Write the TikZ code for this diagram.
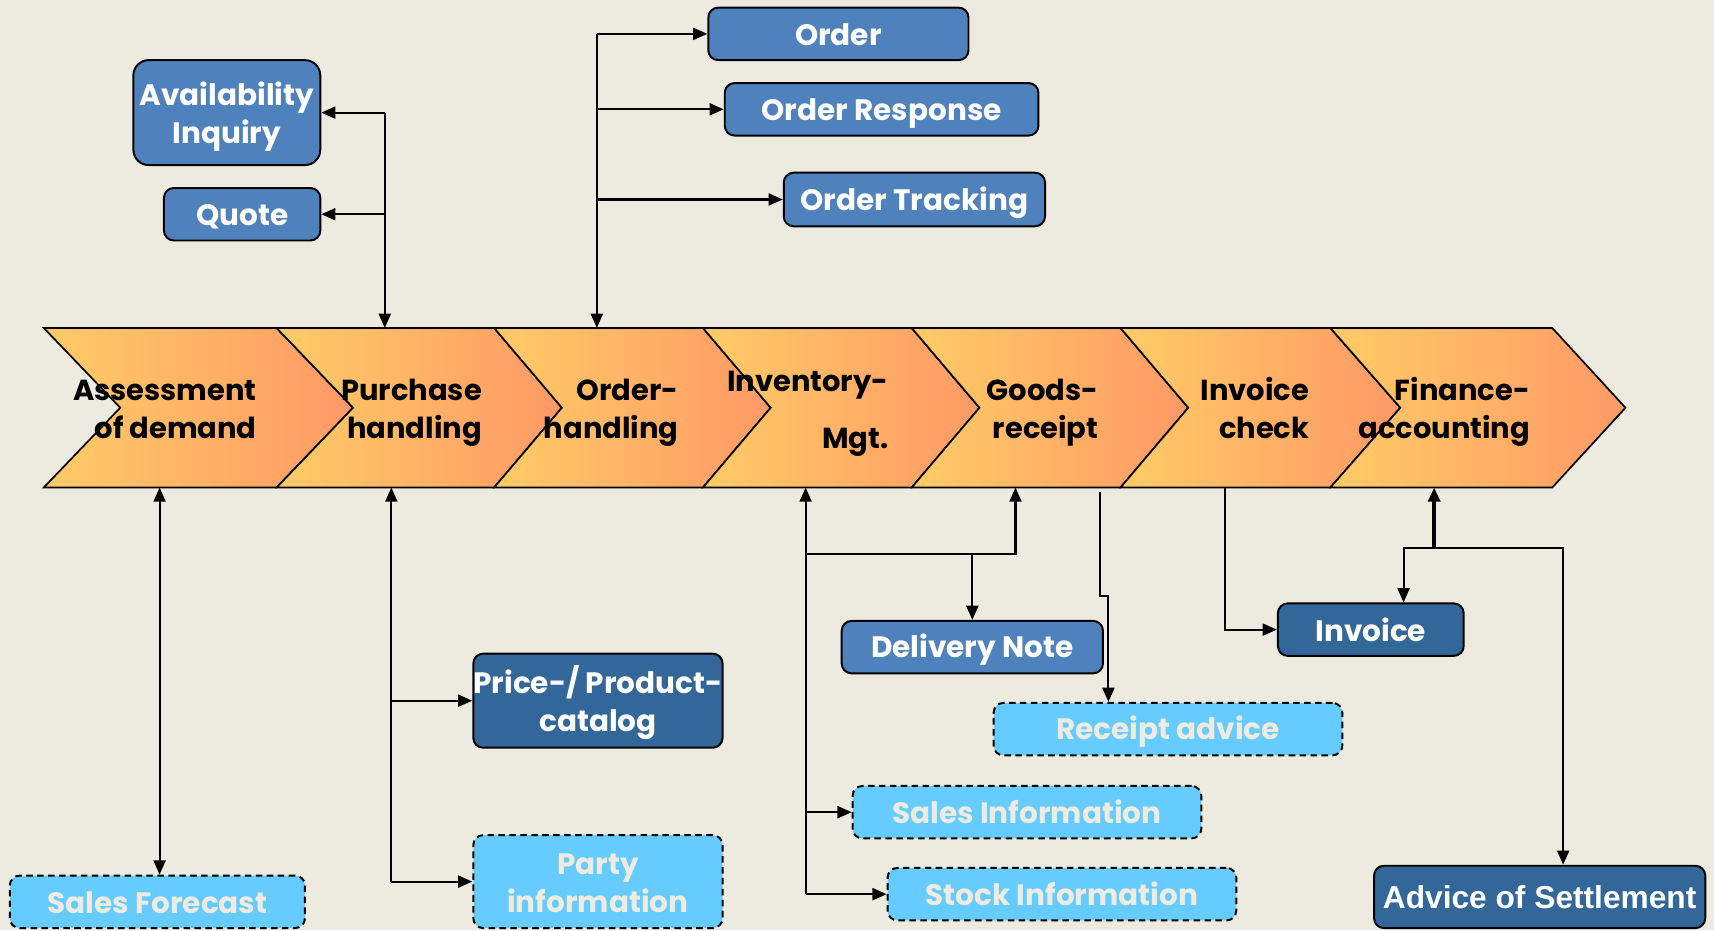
\documentclass[tikz,border=0pt]{standalone}
\usepackage{fontspec}
\setmainfont{Poppins}
\newfontfamily\arialfont{Liberation Sans}
\usetikzlibrary{arrows.meta}
\definecolor{bgc}{HTML}{EDEBE0}
\definecolor{chevL}{HTML}{FFCC66}
\definecolor{chevR}{HTML}{FF9966}
\definecolor{medblue}{HTML}{4F81BD}
\definecolor{darkblue}{HTML}{336699}
\definecolor{lightblue}{HTML}{66CCFF}
\definecolor{paletext}{HTML}{EEEBE0}
\newcommand\mystrut{\rule[-6pt]{0pt}{33pt}}
\newcommand\twoc[2]{\begin{tabular}{@{}c@{}}\rule{0pt}{32.5pt}#1\\#2\end{tabular}}
\newcommand\twor[3][0pt]{\begin{tabular}{@{}r@{}}\rule{0pt}{32.5pt}#2\\[#1]#3\end{tabular}}
\newcommand\mychev[4]{%
  \draw[chevline,left color=chevL,right color=chevR]
    (#1,300) -- (#2,300) -- ({#2+#4},373) -- (#2,446) -- (#1,446) -- ({#1+#3},373) -- cycle;}
\begin{document}
\begin{tikzpicture}[x=1pt,y=-1pt,
  chevline/.style={draw=black,line width=1.6pt,line join=miter},
  chevtext/.style={anchor=east,text=black,font=\fontsize{26.5}{35}\selectfont\bfseries,inner sep=0pt},
  box/.style={draw=black,line width=1.8pt,rounded corners=9pt,inner sep=0pt,
    font=\fontsize{27}{35}\selectfont\bfseries,execute at begin node=\mystrut,execute at end node=\mystrut},
  medbox/.style={box,fill=medblue,text=white},
  darkbox/.style={box,fill=darkblue,text=white},
  lightbox/.style={box,fill=lightblue,text=paletext,dash pattern=on 6pt off 4pt},
  conn/.style={draw=black,line width=1.9pt},
  tip/.style={-{Triangle[length=13pt,width=11pt]}},
  pit/.style={{Triangle[length=13pt,width=11pt]}-},
  both/.style={{Triangle[length=13pt,width=11pt]}-{Triangle[length=13pt,width=11pt]}}
]
\fill[bgc] (0,0) rectangle (1568,851);
\useasboundingbox (0,0) rectangle (1568,851);

% chevrons
\mychev{40}{253}{70}{70}
\mychev{253}{452}{70}{62}
\mychev{452}{643}{62}{62}
\mychev{643}{834}{62}{62}
\mychev{834}{1025}{62}{62}
\mychev{1025}{1217}{62}{64}
\mychev{1217}{1420}{64}{67}

\node[chevtext] (assess) at (235,373) {\twor{Assessment}{of demand}};
\node[chevtext] (purch) at (441,373) {\twor{Purchase}{handling}};
\node[chevtext] (ordh) at (621,373) {\twor{Order-}{handling}};
\node[chevtext] (inv) at (813,373.5) {\twor[17pt]{Inventory-}{Mgt.}};
\node[chevtext] (goods) at (1005,373) {\twor{Goods-}{receipt}};
\node[chevtext] (invchk) at (1198,373) {\twor{Invoice}{check}};
\node[chevtext] (fin) at (1400,373) {\twor{Finance-}{accounting}};

% top boxes
\node[medbox,minimum width=171pt,minimum height=96pt,rounded corners=14pt] (avail) at (207.5,103) {\twoc{Availability}{Inquiry}};
\node[medbox,minimum width=143pt,minimum height=48pt] (quote) at (221.5,196) {Quote};
\node[medbox,minimum width=238pt,minimum height=48pt] (order) at (767,31) {Order};
\node[medbox,minimum width=287pt,minimum height=48pt] (oresp) at (806.5,100) {Order Response};
\node[medbox,minimum width=239pt,minimum height=49pt] (otrack) at (836.5,182.5) {Order Tracking};

% bottom boxes
\node[lightbox,minimum width=270pt,minimum height=48pt] (sfc) at (144,825) {Sales Forecast};
\node[darkbox,minimum width=228pt,minimum height=86pt] (price) at (547,641) {\twoc{Price-/ Product-}{catalog}};
\node[lightbox,minimum width=228pt,minimum height=85pt] (party) at (547,806.5) {\twoc{Party}{information}};
\node[medbox,minimum width=239pt,minimum height=48pt] (dnote) at (889.5,592) {Delivery Note};
\node[lightbox,minimum width=319pt,minimum height=48pt] (radv) at (1068.5,667) {Receipt advice};
\node[lightbox,minimum width=319pt,minimum height=48pt] (sinfo) at (939.5,743) {Sales Information};
\node[lightbox,minimum width=319pt,minimum height=48pt] (stinfo) at (971.5,818) {Stock Information};
\node[darkbox,minimum width=170pt,minimum height=48pt] (invoice) at (1254,576) {Invoice};
\node[darkbox,minimum width=303pt,minimum height=57pt,font=\fontsize{29}{35}\selectfont\arialfont\bfseries] (advice) at (1408.5,820.5) {Advice of Settlement};

% coordinates on band
\coordinate (pa) at (352,300);
\coordinate (oa) at (546,300);
\coordinate (ab) at (146,446);
\coordinate (pb) at (358,446);
\coordinate (ib) at (737,446);
\coordinate (gb) at (929,446);
\coordinate (gb2) at (1006,450);
\coordinate (icb) at (1121,446);
\coordinate (fb) at (1312,446);
\coordinate (jn) at (737,507);
\coordinate (rj) at (1014,545);
\coordinate (fj) at (1312,501);
\coordinate (ij) at (1284,501);
\coordinate (aj) at (1430,501);

% top connectors
\draw[conn,tip] (avail.east -| pa) -- (pa);
\draw[conn,tip] (avail.east -| pa) -- (avail.east);
\draw[conn,tip] (quote.east -| pa) -- (quote.east);
\draw[conn,tip] (order.west -| oa) -- (oa);
\draw[conn,tip] (order.west -| oa) -- (order.west);
\draw[conn,tip] (oresp.west -| oa) -- (oresp.west);
\draw[conn,tip] (otrack.west -| oa) -- (otrack.west);

% bottom connectors
\draw[conn,both] (ab) -- (ab |- sfc.north);
\draw[conn,pit] (pb) -- (pb |- party.west);
\draw[conn,tip] (pb |- price.west) -- (price.west);
\draw[conn,tip] (pb |- party.west) -- (party.west);
\draw[conn,pit] (ib) -- (ib |- stinfo.west);
\draw[conn,tip] (ib |- sinfo.west) -- (sinfo.west);
\draw[conn,tip] (ib |- stinfo.west) -- (stinfo.west);
\draw[conn,tip] (jn) -| (gb);
\draw[conn,tip] (dnote.north |- jn) -- (dnote.north);
\draw[conn,tip] (gb2) |- (rj) -- (rj |- radv.north);
\draw[conn,tip] (icb) |- (invoice.west);
\draw[conn,tip,line width=3.5pt] (fj) -- (fb);
\draw[conn,tip] (fj) -- (ij) -- (ij |- invoice.north);
\draw[conn,tip] (fj) -- (aj) -- (aj |- advice.north);
\end{tikzpicture}
\end{document}
